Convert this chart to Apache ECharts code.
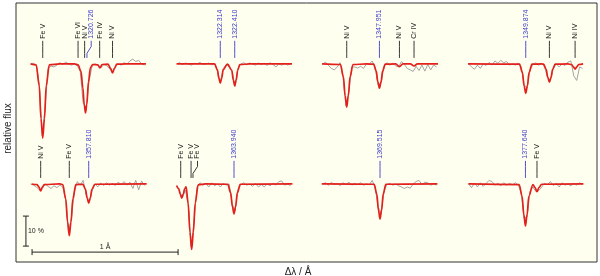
<!DOCTYPE html>
<html><head><meta charset="utf-8">
<script src="https://cdn.jsdelivr.net/npm/echarts@6/dist/echarts.min.js"></script>
<style>html,body{margin:0;padding:0;background:#fff}#c{width:600px;height:276px}</style>
</head><body><div id="c"></div>
<script>
// ---- data (local Δλ in Å from panel start, relative flux) ----
const obsStart = 0.10, obsStep = 0.02;
const panelCol = [0,1,2,3,0,1,2,3];
const panelRowOffset = [0,0,0,0,-0.4,-0.4,-0.4,-0.4];

const obsP1 = [1.000,1.002,0.996,0.930,0.760,0.860,0.985,0.993,0.990,0.996,1.004,0.998,1.006,1.000,0.996,1.000,0.994,0.975,0.870,0.850,0.940,0.992,1.000,0.996,0.986,0.998,0.995,0.985,0.972,0.990,1.000,0.996,1.004,1.000,1.010,1.016,1.008,1.012,1.000,0.996];
const obsP2 = [1.000,1.004,0.998,1.003,1.000,0.996,1.002,1.000,1.005,0.998,1.000,1.003,0.997,1.000,0.975,0.940,0.985,0.998,0.990,0.975,0.925,0.985,1.000,1.004,0.997,1.003,1.000,0.996,1.003,0.998,1.002,0.995,1.004,0.998,0.990,1.000,0.996,1.002,0.996,1.000];
const obsP3 = [1.000,1.006,0.995,0.985,0.980,0.990,1.004,0.955,0.860,0.910,0.990,0.990,0.986,0.992,0.985,1.000,1.000,1.010,0.985,0.930,0.935,0.990,1.004,0.996,1.002,0.994,0.990,1.008,0.998,0.985,0.980,0.975,0.992,0.978,0.996,0.976,0.998,0.980,0.996,0.990];
const obsP4 = [1.000,0.990,0.982,0.996,0.985,1.000,0.995,1.005,0.996,1.010,1.002,1.012,1.004,1.008,0.996,1.000,0.996,1.002,0.990,0.930,0.920,0.980,0.998,1.004,0.996,1.002,0.990,0.955,0.945,0.985,1.000,0.990,1.000,0.995,1.006,1.010,0.960,0.945,0.990,0.985];
const obsP5 = [1.000,0.996,0.990,0.980,0.985,1.000,0.992,0.985,0.994,0.988,0.996,0.990,0.950,0.840,0.890,0.975,1.008,0.996,1.012,0.965,0.940,0.975,1.000,0.990,1.003,0.995,1.004,0.996,1.002,0.995,1.006,0.998,1.008,0.996,1.006,0.985,1.012,0.980,1.010,0.995];
const obsP6 = [0.993,0.975,0.955,0.980,0.930,0.790,0.880,0.990,1.004,0.996,1.002,0.990,1.004,0.994,1.000,0.990,1.002,0.996,1.000,0.935,0.910,0.980,0.998,1.004,0.996,1.000,0.992,1.002,0.990,0.998,0.990,1.000,0.994,1.002,0.996,1.008,1.010,0.996,1.000,0.994];
const obsP7 = [1.000,1.004,0.996,1.005,0.998,1.002,0.995,1.004,0.998,1.006,0.996,1.002,0.998,1.004,0.996,1.000,0.998,1.012,0.985,0.925,0.900,0.975,0.998,1.002,0.996,1.000,0.994,0.990,0.985,0.990,0.986,1.000,1.008,1.012,0.998,1.006,1.004,0.996,1.000,0.996];
const obsP8 = [1.000,0.988,1.003,0.990,1.004,0.992,1.002,1.012,1.008,0.996,1.002,0.994,1.004,0.996,1.002,0.998,1.004,0.996,0.970,0.885,0.890,0.975,0.990,0.975,0.978,0.990,1.002,0.998,1.008,0.995,1.002,0.990,1.004,0.996,1.000,0.994,1.002,0.996,1.004,0.998];

const modelP1 = [[0.10,1],[0.138,0.997],[0.159,0.928],[0.171,0.818],[0.183,0.753],[0.195,0.818],[0.207,0.928],[0.228,0.997],[0.30,1],[0.40,1],[0.425,0.997],[0.445,0.975],[0.458,0.92],[0.467,0.865],[0.476,0.837],[0.485,0.865],[0.496,0.94],[0.51,0.988],[0.525,0.998],[0.56,0.997],[0.575,0.987],[0.59,0.998],[0.63,0.999],[0.648,0.985],[0.661,0.97],[0.674,0.985],[0.69,0.999],[0.75,1],[0.89,1]];
const modelP2 = [[0.10,1],[0.36,1],[0.379,0.981],[0.389,0.953],[0.399,0.936],[0.409,0.953],[0.419,0.981],[0.448,0.999],[0.478,0.979],[0.488,0.946],[0.498,0.927],[0.508,0.946],[0.518,0.979],[0.533,0.998],[0.60,1],[0.89,1]];
const modelP3 = [[0.096,1],[0.222,0.998],[0.242,0.958],[0.254,0.894],[0.265,0.856],[0.276,0.894],[0.288,0.958],[0.308,0.998],[0.40,1],[0.449,0.999],[0.467,0.977],[0.478,0.94],[0.489,0.919],[0.50,0.94],[0.511,0.977],[0.529,0.999],[0.60,1],[0.626,0.991],[0.65,1],[0.70,1],[0.726,0.993],[0.75,1],[0.89,1]];
const modelP4 = [[0.096,1],[0.448,0.999],[0.468,0.972],[0.48,0.926],[0.491,0.902],[0.502,0.926],[0.514,0.972],[0.534,0.999],[0.60,1],[0.613,0.999],[0.631,0.982],[0.642,0.955],[0.653,0.939],[0.664,0.955],[0.675,0.982],[0.693,0.999],[0.78,1],[0.805,0.998],[0.817,0.99],[0.829,0.983],[0.841,0.99],[0.853,0.998],[0.884,1]];
const modelP5 = [[0.107,1],[0.145,0.998],[0.157,0.99],[0.169,0.977],[0.181,0.99],[0.193,0.998],[0.30,1],[0.32,0.998],[0.341,0.95],[0.353,0.874],[0.365,0.828],[0.377,0.874],[0.389,0.95],[0.41,0.998],[0.458,0.999],[0.476,0.982],[0.487,0.953],[0.498,0.936],[0.509,0.953],[0.52,0.982],[0.54,0.999],[0.895,1]];
const modelP6 = [[0.10,0.995],[0.115,0.984],[0.125,0.965],[0.135,0.953],[0.145,0.965],[0.155,0.984],[0.165,0.99],[0.179,0.936],[0.191,0.84],[0.203,0.782],[0.215,0.84],[0.227,0.936],[0.248,0.997],[0.30,1],[0.45,0.999],[0.47,0.971],[0.482,0.925],[0.493,0.90],[0.504,0.925],[0.516,0.971],[0.536,0.999],[0.893,1]];
const modelP7 = [[0.094,1],[0.453,0.999],[0.471,0.967],[0.482,0.914],[0.493,0.883],[0.504,0.914],[0.515,0.967],[0.533,0.999],[0.886,1]];
const modelP8 = [[0.098,1],[0.446,0.998],[0.466,0.959],[0.478,0.897],[0.489,0.86],[0.50,0.897],[0.512,0.959],[0.54,0.998],[0.555,0.988],[0.568,0.974],[0.581,0.988],[0.60,0.999],[0.886,1]];

// labels: [line Δλ, label Δλ, text, kind]
const labelsP1 = [[0.183,0.183,'Fe V','ion'],[0.425,0.425,'Fe VI','ion'],[0.470,0.470,'Ni V','ion'],[0.486,0.515,'1320.726','wl'],[0.573,0.573,'Fe IV','ion'],[0.661,0.661,'Ni V','ion']];
const labelsP2 = [[0.399,0.399,'1322.314','wl'],[0.498,0.498,'1322.410','wl']];
const labelsP3 = [[0.265,0.265,'Ni V','ion'],[0.489,0.489,'1347.951','wl'],[0.626,0.626,'Ni V','ion'],[0.726,0.726,'Cr IV','ion']];
const labelsP4 = [[0.491,0.491,'1349.874','wl'],[0.653,0.653,'Ni V','ion'],[0.829,0.829,'Ni IV','ion']];
const labelsP5 = [[0.169,0.169,'Ni V','ion'],[0.365,0.365,'Fe V','ion'],[0.498,0.498,'1357.810','wl']];
const labelsP6 = [[0.128,0.128,'Fe V','ion'],[0.199,0.199,'Fe V','ion'],[0.212,0.243,'Fe V','ion'],[0.493,0.493,'1363.940','wl']];
const labelsP7 = [[0.493,0.493,'1369.515','wl']];
const labelsP8 = [[0.489,0.489,'1377.640','wl'],[0.568,0.568,'Fe V','ion']];

const scaleFlux = 0.1, scaleWave = 1.0;
const scaleLabels = ['10 %', '1 Å'];

// ---- build ----
const obs = [obsP1,obsP2,obsP3,obsP4,obsP5,obsP6,obsP7,obsP8];
const models = [modelP1,modelP2,modelP3,modelP4,modelP5,modelP6,modelP7,modelP8];
const labels = [labelsP1,labelsP2,labelsP3,labelsP4,labelsP5,labelsP6,labelsP7,labelsP8];
const FONT = '"Liberation Sans", Arial, Helvetica, sans-serif';
const RED = '#e3211c', GRAY = '#9a9a9a', BLUE = '#3c3cc8', INK = '#222';

const series = [];
obs.forEach((arr, p) => {
  series.push({type:'line', silent:true, symbol:'none', animation:false, z:2,
    lineStyle:{color:GRAY, width:0.9},
    data: arr.map((v,i) => [panelCol[p] + obsStart + i*obsStep, v + panelRowOffset[p]])});
});
models.forEach((arr, p) => {
  series.push({type:'line', silent:true, symbol:'none', animation:false, z:3, smooth:0.35, smoothMonotone:'x',
    lineStyle:{color:RED, width:1.7},
    data: arr.map(d => [panelCol[p] + d[0], d[1] + panelRowOffset[p]])});
});

const flat = [];
labels.forEach((arr, p) => arr.forEach(l => flat.push({
  x: panelCol[p] + l[0], lx: panelCol[p] + l[1], cont: 1 + panelRowOffset[p], text: l[2], kind: l[3]})));
const TK = {gap:0.02, bend1:0.035, bend2:0.058, top:0.077, text:0.084};
series.push({type:'custom', silent:true, animation:false, z:4, clip:false,
  data: flat.map(l => [l.x, l.cont]),
  renderItem: function(params, api){
    const L = flat[params.dataIndex];
    const col = L.kind === 'wl' ? BLUE : INK;
    const p0 = api.coord([L.x, L.cont + TK.gap]);
    const p1 = api.coord([L.x, L.cont + TK.bend1]);
    const p2 = api.coord([L.lx, L.cont + TK.bend2]);
    const p3 = api.coord([L.lx, L.cont + TK.top]);
    const pt = api.coord([L.lx, L.cont + TK.text]);
    return {type:'group', children:[
      {type:'polyline', shape:{points:[p0,p1,p2,p3]}, style:{stroke:col, lineWidth:0.9, fill:null}},
      {type:'text', x:pt[0], y:pt[1], rotation:Math.PI/2,
        style:{text:L.text, fill:col, fontSize:7, fontFamily:FONT, align:'left', verticalAlign:'middle'}}
    ]};
  }});

// scale bars (data coordinates)
const SB = {vx:0.068, vy0:0.393, hx0:0.11, hy:0.373};
series.push({type:'custom', silent:true, animation:false, z:4, clip:false,
  data: [[SB.vx, SB.vy0]],
  renderItem: function(params, api){
    const a = api.coord([SB.vx, SB.vy0]), b = api.coord([SB.vx, SB.vy0 + scaleFlux]);
    const c = api.coord([SB.hx0, SB.hy]), d = api.coord([SB.hx0 + scaleWave, SB.hy]);
    const st = {stroke:INK, lineWidth:1};
    return {type:'group', children:[
      {type:'line', shape:{x1:a[0],y1:a[1],x2:b[0],y2:b[1]}, style:st},
      {type:'line', shape:{x1:a[0]-3,y1:a[1],x2:a[0]+3,y2:a[1]}, style:st},
      {type:'line', shape:{x1:b[0]-3,y1:b[1],x2:b[0]+3,y2:b[1]}, style:st},
      {type:'line', shape:{x1:c[0],y1:c[1],x2:d[0],y2:d[1]}, style:st},
      {type:'line', shape:{x1:c[0],y1:c[1]-3,x2:c[0],y2:c[1]+3}, style:st},
      {type:'line', shape:{x1:d[0],y1:d[1]-3,x2:d[0],y2:d[1]+3}, style:st},
      {type:'text', x:a[0]+2, y:(a[1]+b[1])/2, style:{text:scaleLabels[0], fill:INK, fontSize:7, fontFamily:FONT, align:'left', verticalAlign:'middle'}},
      {type:'text', x:(c[0]+d[0])/2, y:c[1]-1.5, style:{text:scaleLabels[1], fill:INK, fontSize:7, fontFamily:FONT, align:'center', verticalAlign:'bottom'}}
    ]};
  }});

const chart = echarts.init(document.getElementById('c'), null, {renderer:'canvas'});
chart.setOption({
  animation:false,
  grid:{left:16, right:3, top:3, bottom:14, containLabel:false, outerBoundsMode:'none', show:true, backgroundColor:'#fffff0', borderColor:'#333', borderWidth:1},
  xAxis:{type:'value', min:0, max:3.979, axisLine:{show:false}, axisTick:{show:false}, axisLabel:{show:false}, splitLine:{show:false},
    name:'Δλ / Å', nameLocation:'middle', nameGap:5, nameTextStyle:{fontSize:10, fontFamily:FONT, color:INK, padding:[0,17,0,0]}},
  yAxis:{type:'value', min:0.340, max:1.203, axisLine:{show:false}, axisTick:{show:false}, axisLabel:{show:false}, splitLine:{show:false},
    name:'relative flux', nameLocation:'middle', nameGap:3, nameTextStyle:{fontSize:10, fontFamily:FONT, color:INK, padding:[0,0,0,8]}},
  series: series
});
</script></body></html>
